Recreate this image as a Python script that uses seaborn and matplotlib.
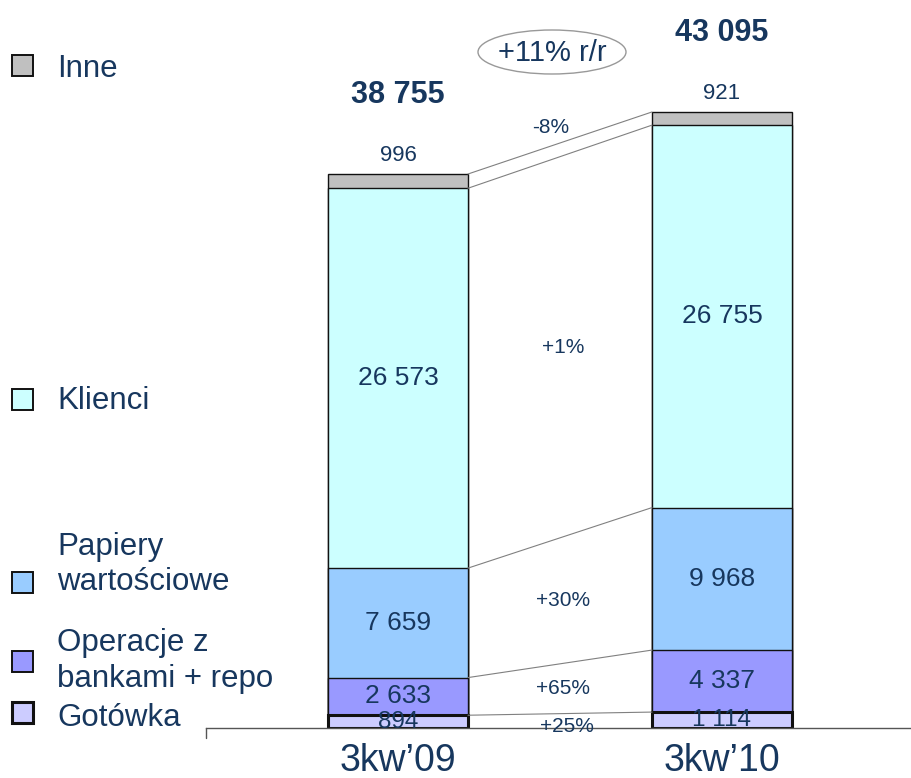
import numpy as np
import pandas as pd
import matplotlib
matplotlib.use("Agg")
import matplotlib.pyplot as plt
from matplotlib.patches import Ellipse, Rectangle
import seaborn as sns

# ---- data ----
periods = ["3kw\u201909", "3kw\u201910"]
layers = ["Gotówka", "Operacje z\nbankami + repo", "Papiery\nwartościowe", "Klienci", "Inne"]
gotowka = [894, 1114]
operacje = [2633, 4337]
papiery = [7659, 9968]
klienci = [26573, 26755]
inne = [996, 921]
totals = ["38 755", "43 095"]
changes = ["+25%", "+65%", "+30%", "+1%", "-8%"]
yoy = "+11% r/r"
colors = ["#CCCCFF", "#9999FF", "#99CCFF", "#CCFFFF", "#C0C0C0"]

NAVY = "#17375E"

sns.set_theme(style="white")
plt.rcParams["font.family"] = ["Liberation Sans", "DejaVu Sans"]

values = np.array([gotowka, operacje, papiery, klienci, inne], dtype=float)
cum = np.cumsum(values, axis=0)

fig = plt.figure(figsize=(9.12, 7.78), dpi=100)
W, H = 912, 778
ax = fig.add_axes([206 / W, 50 / H, 706 / W, 728 / H])

bw = 140 / 324
# draw back-to-front cumulative bars
for i in range(len(layers) - 1, -1, -1):
    df = pd.DataFrame({"period": periods, "value": cum[i]})
    lw = 2.2 if i == 0 else 1.0
    sns.barplot(data=df, x="period", y="value", order=periods, color=colors[i],
                saturation=1, width=bw, edgecolor="#111111", linewidth=lw, ax=ax)

scale = 554 / cum[-1][0]
ax.set_ylim(0, 728 / scale)
ax.set_xlim(-192 / 324, 1 + 190 / 324)

# connecting lines
for i in range(len(layers)):
    ax.plot([0 + bw / 2, 1 - bw / 2], [cum[i][0], cum[i][1]], color="#808080", lw=0.8, zorder=1)

# segment value labels
fmt = lambda v: f"{int(v):,}".replace(",", " ")
for j in range(2):
    for i in range(4):
        yc = cum[i][j] - values[i][j] / 2
        fs = 17.5 if i == 0 else 19
        ax.text(j, yc, fmt(values[i][j]), ha="center", va="center", fontsize=fs, color=NAVY, zorder=5)
    ax.annotate(fmt(values[4][j]), (j, cum[4][j]), xytext=(0, 13), textcoords="offset points",
                ha="center", va="center", fontsize=16, color=NAVY)
    ax.annotate(totals[j], (j, cum[4][j]), xytext=(0, 57), textcoords="offset points",
                ha="center", va="center", fontsize=22, fontweight="bold", color=NAVY)

# change labels
xm = 0.51
for i in range(len(layers)):
    mid_hi = (cum[i][0] + cum[i][1]) / 2
    mid_lo = (cum[i - 1][0] + cum[i - 1][1]) / 2 if i > 0 else 0
    if i == 4:
        ax.annotate(changes[i], (xm - 0.04, mid_hi), xytext=(0, 11), textcoords="offset points",
                    ha="center", va="center", fontsize=15, color=NAVY)
    else:
        ax.text(xm if i > 0 else xm + 0.01, (mid_hi + mid_lo) / 2 - (0 if i else 400), changes[i],
                ha="center", va="center", fontsize=15, color=NAVY)

# axes styling
for s in ["left", "right", "top"]:
    ax.spines[s].set_visible(False)
ax.spines["bottom"].set_color("#555555")
ax.spines["bottom"].set_linewidth(1.0)
ax.set_yticks([])
ax.set_xlabel("")
ax.set_ylabel("")
ax.tick_params(axis="x", length=0, pad=11, labelsize=27, labelcolor=NAVY)
ax.plot([0, 0], [0, -0.0137], transform=ax.transAxes, clip_on=False, color="#555555", lw=1.0)

# ellipse with YoY change
fig.patches.append(Ellipse((552 / W, 1 - 52 / H), 148 / W, 44 / H, transform=fig.transFigure,
                           facecolor="none", edgecolor="#999999", lw=1.0))
fig.text(552 / W, 1 - 53 / H, yoy, ha="center", va="center", fontsize=21, color=NAVY)

# legend (manual)
leg = [
    (4, 66, [(67, "Inne")]),
    (3, 400, [(399, "Klienci")]),
    (2, 583, [(545, "Papiery"), (580, "wartościowe")]),
    (1, 662, [(641, "Operacje z"), (677, "bankami + repo")]),
    (0, 713, [(716, "Gotówka")]),
]
for idx, ysq, lines in leg:
    lw = 2.2 if idx == 0 else 1.4
    fig.patches.append(Rectangle((12 / W, 1 - (ysq + 10) / H), 21 / W, 21 / H, transform=fig.transFigure,
                                 facecolor=colors[idx], edgecolor="#111111", lw=lw))
    for yt, t in lines:
        fig.text(57 / W, 1 - (yt + 2) / H, t, ha="left", va="center", fontsize=22.5, color=NAVY)

fig.savefig("out.png", dpi=100)
